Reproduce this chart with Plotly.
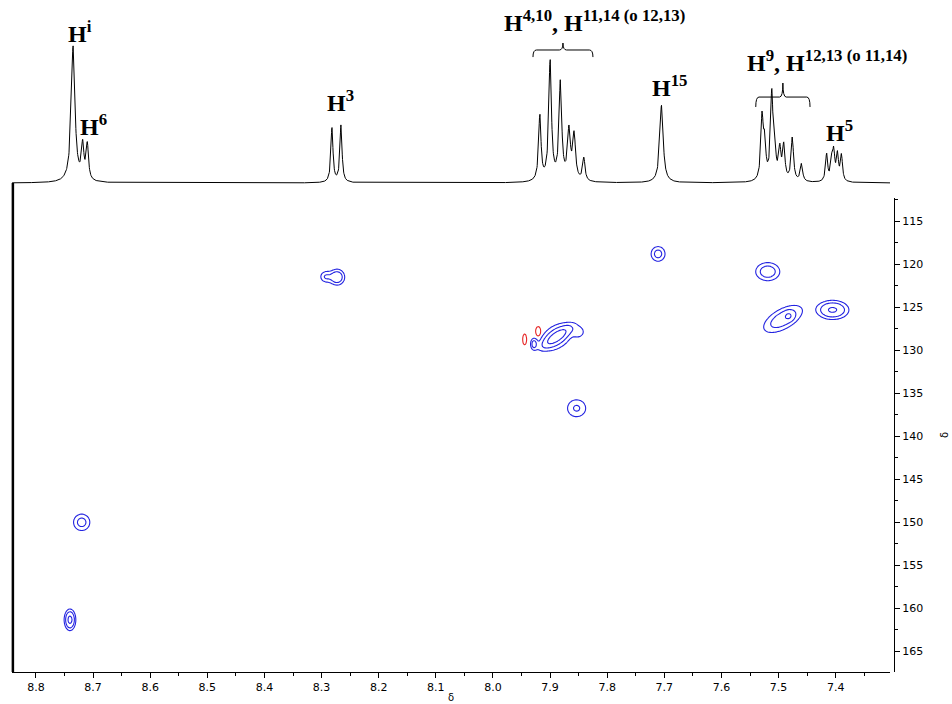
import numpy as np
import plotly.graph_objects as go

# ---------------- data ----------------
x_range = [8.842, 7.305]          # 1H axis (reversed)
y_range = [167.4, 112.3]          # 13C axis (reversed, 115 on top)
x_ticks = [8.8, 8.7, 8.6, 8.5, 8.4, 8.3, 8.2, 8.1, 8.0, 7.9, 7.8, 7.7, 7.6, 7.5, 7.4]
y_ticks = [115, 120, 125, 130, 135, 140, 145, 150, 155, 160, 165]

# 1D 1H spectrum: peak positions (ppm), relative heights, half widths (ppm)
h_pos = [8.7350, 8.7183, 8.7102, 8.2819, 8.2661,
         7.9180, 7.9000, 7.8820, 7.8670, 7.8580, 7.8410,
         7.7050,
         7.5290, 7.5245, 7.5120, 7.5070, 7.4980, 7.4910, 7.4760, 7.4600,
         7.4160, 7.4070, 7.4035, 7.3970, 7.3900]
h_amp = [1.00, 0.25, 0.26, 0.40, 0.42,
         0.48, 0.88, 0.72, 0.36, 0.33, 0.17,
         0.57,
         0.45, 0.25, 0.62, 0.22, 0.22, 0.25, 0.32, 0.13,
         0.20, 0.14, 0.20, 0.19, 0.19]
h_hw = [0.0038, 0.0025, 0.0025, 0.0022, 0.0022,
        0.0025, 0.0028, 0.0028, 0.0030, 0.0030, 0.0025,
        0.0035,
        0.0025, 0.0025, 0.0025, 0.0025, 0.0025, 0.0025, 0.0025, 0.0025,
        0.0022, 0.0022, 0.0022, 0.0022, 0.0022]

# 2D HSQC cross peaks (positive, blue): 1H ppm, 13C ppm, amplitude,
# widths (ppm) and 1H/13C correlation of the peak shape
c_x = [8.7405, 8.7200, 8.2730, 8.2930, 7.7110, 7.5190, 7.4924, 7.4820,
       7.4055, 7.8880, 7.8889, 7.8495, 7.9285, 7.8536]
c_y = [161.33, 150.00, 121.50, 121.45, 118.80, 120.86, 126.36, 126.01,
       125.31, 128.40, 128.45, 127.87, 129.27, 136.74]
c_amp = [4.8, 2.6, 3.6, 2.0, 2.6, 3.1, 3.2, 1.8, 4.4, 3.8, 2.5, 1.4, 2.6, 2.2]
c_sx = [0.0058, 0.0103, 0.0084, 0.0070, 0.0088, 0.0140, 0.0221, 0.0053,
        0.0166, 0.0162, 0.0190, 0.0079, 0.0039, 0.0126]
c_sy = [0.71, 0.69, 0.58, 0.47, 0.62, 0.70, 1.033, 0.35,
        0.65, 0.803, 1.103, 0.52, 0.43, 0.78]
c_rho = [0, 0, 0, 0, 0, 0, 0.586, 0, 0, 0.80, 0.364, 0, 0, 0]

# negative cross peaks (red)
n_x = [7.9446, 7.9209]
n_y = [128.74, 127.79]
n_amp = [1.5, 1.5]
n_sx = [0.0039, 0.0049]
n_sy = [0.70, 0.60]
n_rho = [0, 0]

# ---------------- build traces ----------------
sx = np.arange(x_range[1], x_range[0] + 1e-9, 0.0004)
spec = np.zeros_like(sx)
for p, a, w in zip(h_pos, h_amp, h_hw):
    spec += a / (1.0 + ((sx - p) / w) ** 2)

gx = np.arange(x_range[1], x_range[0] + 1e-9, 0.002)
gy = np.arange(y_range[1], y_range[0] + 1e-9, 0.15)
GX, GY = np.meshgrid(gx, gy)


def field(xs, ys, amps, sxs, sys_, rhos):
    f = np.zeros_like(GX)
    for x0, y0, a, s1, s2, r in zip(xs, ys, amps, sxs, sys_, rhos):
        u = (GX - x0) / s1
        v = (GY - y0) / s2
        q = (u * u - 2 * r * u * v + v * v) / (1 - r * r)
        f += a * np.exp(-0.5 * q)
    return np.round(np.log2(np.maximum(f, 0.5)), 2)


zpos = field(c_x, c_y, c_amp, c_sx, c_sy, c_rho)
zneg = field(n_x, n_y, n_amp, n_sx, n_sy, n_rho)

BLUE = "rgb(35,35,225)"
RED = "rgb(230,35,35)"

fig = go.Figure()
for z, col in ((zpos, BLUE), (zneg, RED)):
    fig.add_trace(go.Contour(
        x=np.round(gx, 4), y=np.round(gy, 3), z=z,
        contours=dict(start=0, end=2, size=1, coloring="lines"),
        colorscale=[[0, col], [1, col]], showscale=False,
        line=dict(width=1.1), hoverinfo="skip", xaxis="x", yaxis="y"))
fig.add_trace(go.Scatter(
    x=np.round(sx, 4), y=np.round(spec, 4), mode="lines",
    line=dict(color="black", width=1), hoverinfo="skip",
    xaxis="x2", yaxis="y2", showlegend=False))

# ---------------- layout ----------------
H_PLOT = 672.0
dom2d_top = (H_PLOT - 198) / H_PLOT
dom1d_bot = (H_PLOT - 186) / H_PLOT
base_paper = (H_PLOT - 183) / H_PLOT
xdom = [0, 878 / 882]

tickfont = dict(family="DejaVu Sans", size=11, color="black")

fig.update_layout(
    width=952, height=704,
    margin=dict(l=12, r=58, t=0, b=32),
    paper_bgcolor="white", plot_bgcolor="white",
    showlegend=False,
    xaxis=dict(domain=xdom, range=x_range, anchor="y",
               tickmode="array", tickvals=x_ticks,
               ticktext=[f"{v:.1f}" for v in x_ticks],
               ticks="outside", ticklen=5, tickcolor="black", tickwidth=1,
               minor=dict(dtick=0.05, tick0=8.8, ticks="outside", ticklen=3,
                          tickcolor="black", showgrid=False),
               showline=True, linecolor="black", linewidth=1,
               showgrid=False, zeroline=False, tickfont=tickfont,
               title=dict(text="δ", font=dict(family="DejaVu Sans", size=10, color="black"),
                          standoff=0)),
    yaxis=dict(domain=[0, dom2d_top], range=y_range, side="right",
               anchor="free", position=1.0,
               tickmode="array", tickvals=y_ticks,
               ticks="outside", ticklen=5, tickcolor="black", tickwidth=1,
               minor=dict(dtick=2.5, tick0=115, ticks="outside", ticklen=3,
                          tickcolor="black", showgrid=False),
               showline=True, linecolor="black", linewidth=1,
               showgrid=False, zeroline=False, tickfont=tickfont,
               title=dict(text="δ", font=dict(family="DejaVu Sans", size=10, color="black"),
                          standoff=18)),
    xaxis2=dict(domain=xdom, range=x_range, anchor="y2", matches="x", visible=False),
    yaxis2=dict(domain=[dom1d_bot, 1], range=[-0.022, 183 / 136.0], visible=False),
)

# thick left edge line
fig.add_shape(type="line", xref="paper", yref="paper", x0=0.001, x1=0.001,
              y0=0, y1=base_paper, line=dict(color="black", width=2.5))


def brace(x0, x1, ye, yl, yt):
    xm = (x0 + x1) / 2
    d = (x0 - x1) * 0.06
    return (f"M {x0},{ye} Q {x0},{yl} {x0 - d},{yl} L {xm + d},{yl} "
            f"Q {xm},{yl} {xm},{yt} Q {xm},{yl} {xm - d},{yl} "
            f"L {x1 + d},{yl} Q {x1},{yl} {x1},{ye}")


fig.add_shape(type="path", xref="x2", yref="y2",
              path=brace(7.930, 7.825, 0.926, 0.978, 1.029),
              line=dict(color="black", width=1))
fig.add_shape(type="path", xref="x2", yref="y2",
              path=brace(7.540, 7.445, 0.559, 0.632, 0.735),
              line=dict(color="black", width=1))

lab_font = dict(family="Liberation Serif", size=24, color="black")
labels = [
    ("<b>H<sup>i</sup></b>", 8.7230, 0.983),
    ("<b>H<sup>6</sup></b>", 8.6994, 0.304),
    ("<b>H<sup>3</sup></b>", 8.2661, 0.478),
    ("<b>H<sup>4,10</sup>, H<sup>11,14 (o 12,13)</sup></b>", 7.8224, 1.066),
    ("<b>H<sup>15</sup></b>", 7.6902, 0.588),
    ("<b>H<sup>9</sup>, H<sup>12,13 (o 11,14)</sup></b>", 7.4146, 0.774),
    ("<b>H<sup>5</sup></b>", 7.3927, 0.259),
]
for txt, x, y in labels:
    fig.add_annotation(text=txt, x=x, y=y, xref="x2", yref="y2",
                       xanchor="center", yanchor="bottom", showarrow=False,
                       font=lab_font)

fig.write_html("out.html",
               config={"displayModeBar": False},
               post_script="document.body.style.margin='0';"
                           "document.body.style.overflow='hidden';")
